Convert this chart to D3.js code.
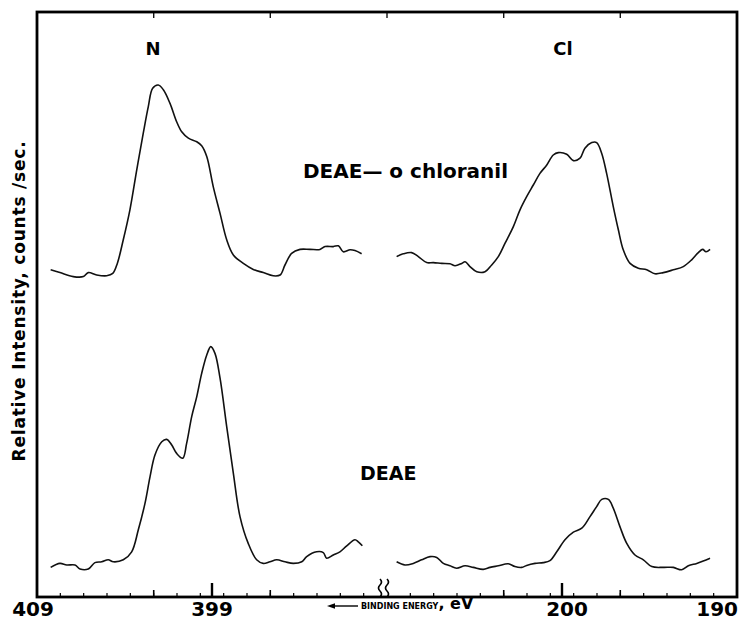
<!DOCTYPE html>
<html><head><meta charset="utf-8">
<script src="https://cdn.jsdelivr.net/npm/d3@7"></script>
<style>body{margin:0;background:#fff}svg{display:block}</style>
</head><body>
<svg id="c" width="740" height="620"></svg>
<script>
// Binding energy (eV) / relative intensity pairs
const nChloranil = [[408.22,81.3],[407.69,80.6],[406.93,79.6],[406.35,79.6],[406.07,80.6],[405.59,80.0],[405.02,79.8],[404.67,80.4],[404.41,82.9],[404.07,88.8],[403.69,96.3],[403.30,106.3],[402.93,115.4],[402.64,122.1],[402.39,126.7],[402.07,127.5],[401.78,126.3],[401.40,122.9],[401.02,118.3],[400.73,115.8],[400.35,114.2],[399.87,113.3],[399.59,112.3],[399.30,109.6],[398.93,102.1],[398.54,95.4],[398.16,88.8],[397.78,85.0],[397.21,82.9],[396.64,81.4],[396.07,80.6],[395.50,79.8],[395.11,80.0],[394.83,82.5],[394.45,85.4],[393.97,86.4],[393.40,86.4],[392.83,86.4],[392.54,87.1],[392.07,87.1],[391.78,87.3],[391.50,85.8],[391.11,86.3],[390.83,86.1],[390.45,85.3]];
const clChloranil = [[209.45,84.6],[209.07,85.3],[208.59,85.6],[208.21,84.6],[207.73,83.1],[207.35,83.1],[206.87,82.9],[206.40,82.8],[206.11,82.3],[205.73,82.9],[205.54,83.3],[205.26,82.1],[204.87,80.8],[204.40,80.8],[204.02,82.5],[203.64,84.6],[203.26,87.9],[202.78,92.1],[202.40,96.3],[202.02,99.6],[201.64,102.5],[201.26,105.4],[200.87,107.5],[200.50,110.0],[200.21,110.6],[199.73,110.2],[199.35,108.6],[198.97,109.2],[198.69,111.7],[198.30,113.1],[198.02,113.1],[197.73,110.4],[197.45,105.4],[197.07,97.1],[196.78,91.3],[196.50,86.3],[196.11,82.9],[195.64,81.7],[195.16,81.3],[194.69,80.3],[194.21,80.6],[193.64,81.3],[193.07,82.1],[192.59,83.8],[192.21,85.6],[191.96,86.4],[191.77,85.8],[191.54,86.4]];
const nDEAE = [[408.22,6.9],[407.69,7.9],[407.30,7.5],[406.83,7.5],[406.54,6.5],[406.07,6.5],[405.69,8.1],[405.30,8.3],[404.93,8.8],[404.64,8.3],[404.07,8.8],[403.59,10.8],[403.21,16.3],[402.83,22.9],[402.54,29.6],[402.26,35.0],[401.87,38.3],[401.59,38.9],[401.30,37.5],[401.02,35.4],[400.67,34.2],[400.45,37.9],[400.16,44.6],[399.87,49.6],[399.59,55.4],[399.30,60.0],[399.07,62.1],[398.83,60.4],[398.54,54.2],[398.16,42.1],[397.78,30.4],[397.40,19.6],[396.93,12.9],[396.45,8.8],[396.07,7.9],[395.69,8.3],[395.30,8.8],[394.83,8.3],[394.35,7.9],[393.87,8.3],[393.59,9.6],[393.02,10.8],[392.64,10.6],[392.45,9.2],[392.07,10.0],[391.69,10.8],[391.30,12.3],[390.83,13.8],[390.64,13.3],[390.41,12.3]];
const clDEAE = [[209.45,8.3],[208.97,7.5],[208.50,7.9],[208.02,8.8],[207.54,9.6],[207.16,9.4],[206.78,7.9],[206.40,7.3],[206.02,6.7],[205.54,7.3],[205.07,6.9],[204.50,6.4],[204.11,6.9],[203.64,7.3],[203.07,7.8],[202.69,7.1],[202.30,6.9],[202.02,7.4],[201.54,7.9],[201.07,8.1],[200.69,8.6],[200.30,10.8],[199.83,13.8],[199.35,15.7],[198.87,16.7],[198.40,19.6],[198.02,22.1],[197.73,23.9],[197.35,23.9],[197.07,21.7],[196.69,17.1],[196.30,12.9],[195.83,10.0],[195.35,8.8],[194.87,7.1],[194.21,6.9],[193.64,6.9],[193.16,6.3],[192.78,7.3],[192.30,7.9],[191.93,8.5],[191.54,9.2]];

const nDomain = [409, 389];
const clDomain = [210, 190];
const labelTicksN = [409, 399];
const labelTicksCl = [200, 190];
const majorTickN = [399];
const majorTickCl = [200];
const thirdTicksN = [402.33, 395.67];
const thirdTicksCl = [203.33, 196.67];
const intensityDomain = [0, 146];

const frame = {l: 37, r: 737, t: 12, b: 597};
const breakX = 387;

const svg = d3.select('#c');
const xN = d3.scaleLinear().domain(nDomain).range([frame.l, breakX]);
const xCl = d3.scaleLinear().domain(clDomain).range([breakX, frame.r]);
const y = d3.scaleLinear().domain(intensityDomain).range([595, 11]);

const FONT = "'DejaVu Sans', sans-serif";

// spectra
function drawSpectrum(data, x) {
  const line = d3.line().x(d => x(d[0])).y(d => y(d[1])).curve(d3.curveCatmullRom.alpha(0.5));
  svg.append('path').datum(data).attr('d', line)
    .attr('fill', 'none').attr('stroke', '#111').attr('stroke-width', 1.6)
    .attr('stroke-linejoin', 'round');
}
drawSpectrum(nChloranil, xN);
drawSpectrum(clChloranil, xCl);
drawSpectrum(nDEAE, xN);
drawSpectrum(clDEAE, xCl);

// frame
svg.append('rect').attr('x', frame.l).attr('y', frame.t)
  .attr('width', frame.r - frame.l).attr('height', frame.b - frame.t)
  .attr('fill', 'none').attr('stroke', '#000').attr('stroke-width', 2.8);

// ticks
const minorN = d3.range(1, 15).map(i => nDomain[0] - i * 4 / 3);
const minorCl = d3.range(1, 15).map(i => clDomain[0] - i * 4 / 3);
function ticks(vals, x, len, w, top) {
  svg.append('g').selectAll('line').data(vals).join('line')
    .attr('x1', d => x(d)).attr('x2', d => x(d))
    .attr('y1', top ? frame.t : frame.b).attr('y2', top ? frame.t + len : frame.b - len)
    .attr('stroke', '#000').attr('stroke-width', w);
}
ticks(minorN, xN, 4, 1.2);
ticks(minorCl, xCl, 4, 1.2);
ticks(thirdTicksN, xN, 7, 1.6);
ticks(thirdTicksCl, xCl, 7, 1.6);
ticks(majorTickN, xN, 14, 2.4);
ticks(majorTickCl, xCl, 14, 2.4);
ticks(thirdTicksN, xN, 6, 1.3, true);
ticks(thirdTicksCl, xCl, 6, 1.3, true);
ticks([nDomain[1]], xN, 6, 1.3, true);

// tick labels
const tl = svg.append('g').attr('font-family', FONT).attr('font-weight', 'bold')
  .attr('font-size', 20).attr('fill', '#000');
tl.append('text').attr('x', xN(labelTicksN[0]) - 4).attr('y', 616).attr('text-anchor', 'middle').text(labelTicksN[0]);
tl.append('text').attr('x', xN(labelTicksN[1])).attr('y', 616).attr('text-anchor', 'middle').text(labelTicksN[1]);
tl.append('text').attr('x', xCl(labelTicksCl[0]) + 5).attr('y', 616).attr('text-anchor', 'middle').text(labelTicksCl[0]);
tl.append('text').attr('x', xCl(labelTicksCl[1]) + 1).attr('y', 616).attr('text-anchor', 'end').text(labelTicksCl[1]);

// axis break marks
[breakX - 7, breakX].forEach(bx => {
  svg.append('path')
    .attr('d', `M${bx},579 q3,3 0,6 q-3,3 0,6 q3,3 0,6`)
    .attr('fill', 'none').attr('stroke', '#000').attr('stroke-width', 1.6);
});

// axis title with arrow
svg.append('line').attr('x1', 332).attr('x2', 358).attr('y1', 606).attr('y2', 606)
  .attr('stroke', '#000').attr('stroke-width', 1.4);
svg.append('path').attr('d', 'M327,606 L335,603.3 L335,608.7 Z').attr('fill', '#000');
const at = svg.append('text').attr('x', 361).attr('y', 609).attr('font-family', FONT)
  .attr('font-weight', 'bold').attr('fill', '#000');
at.append('tspan').attr('font-size', 8).text('BINDING ENERGY');
at.append('tspan').attr('font-size', 16).text(', eV');

// region labels
const lab = svg.append('g').attr('font-family', FONT).attr('font-weight', 'bold').attr('fill', '#000');
lab.append('text').attr('x', 153).attr('y', 55).attr('font-size', 18).attr('text-anchor', 'middle').text('N');
lab.append('text').attr('x', 563).attr('y', 55).attr('font-size', 18).attr('text-anchor', 'middle').text('Cl');
lab.append('text').attr('x', 303).attr('y', 178).attr('font-size', 20).text('DEAE— o chloranil');
lab.append('text').attr('x', 360).attr('y', 480).attr('font-size', 19).text('DEAE');

// y-axis title
svg.append('text').attr('transform', 'translate(25,301) rotate(-90)')
  .attr('text-anchor', 'middle').attr('font-family', FONT).attr('font-weight', 'bold')
  .attr('font-size', 17).attr('letter-spacing', 0.8).attr('fill', '#000')
  .text('Relative Intensity, counts /sec.');
</script>
</body></html>
